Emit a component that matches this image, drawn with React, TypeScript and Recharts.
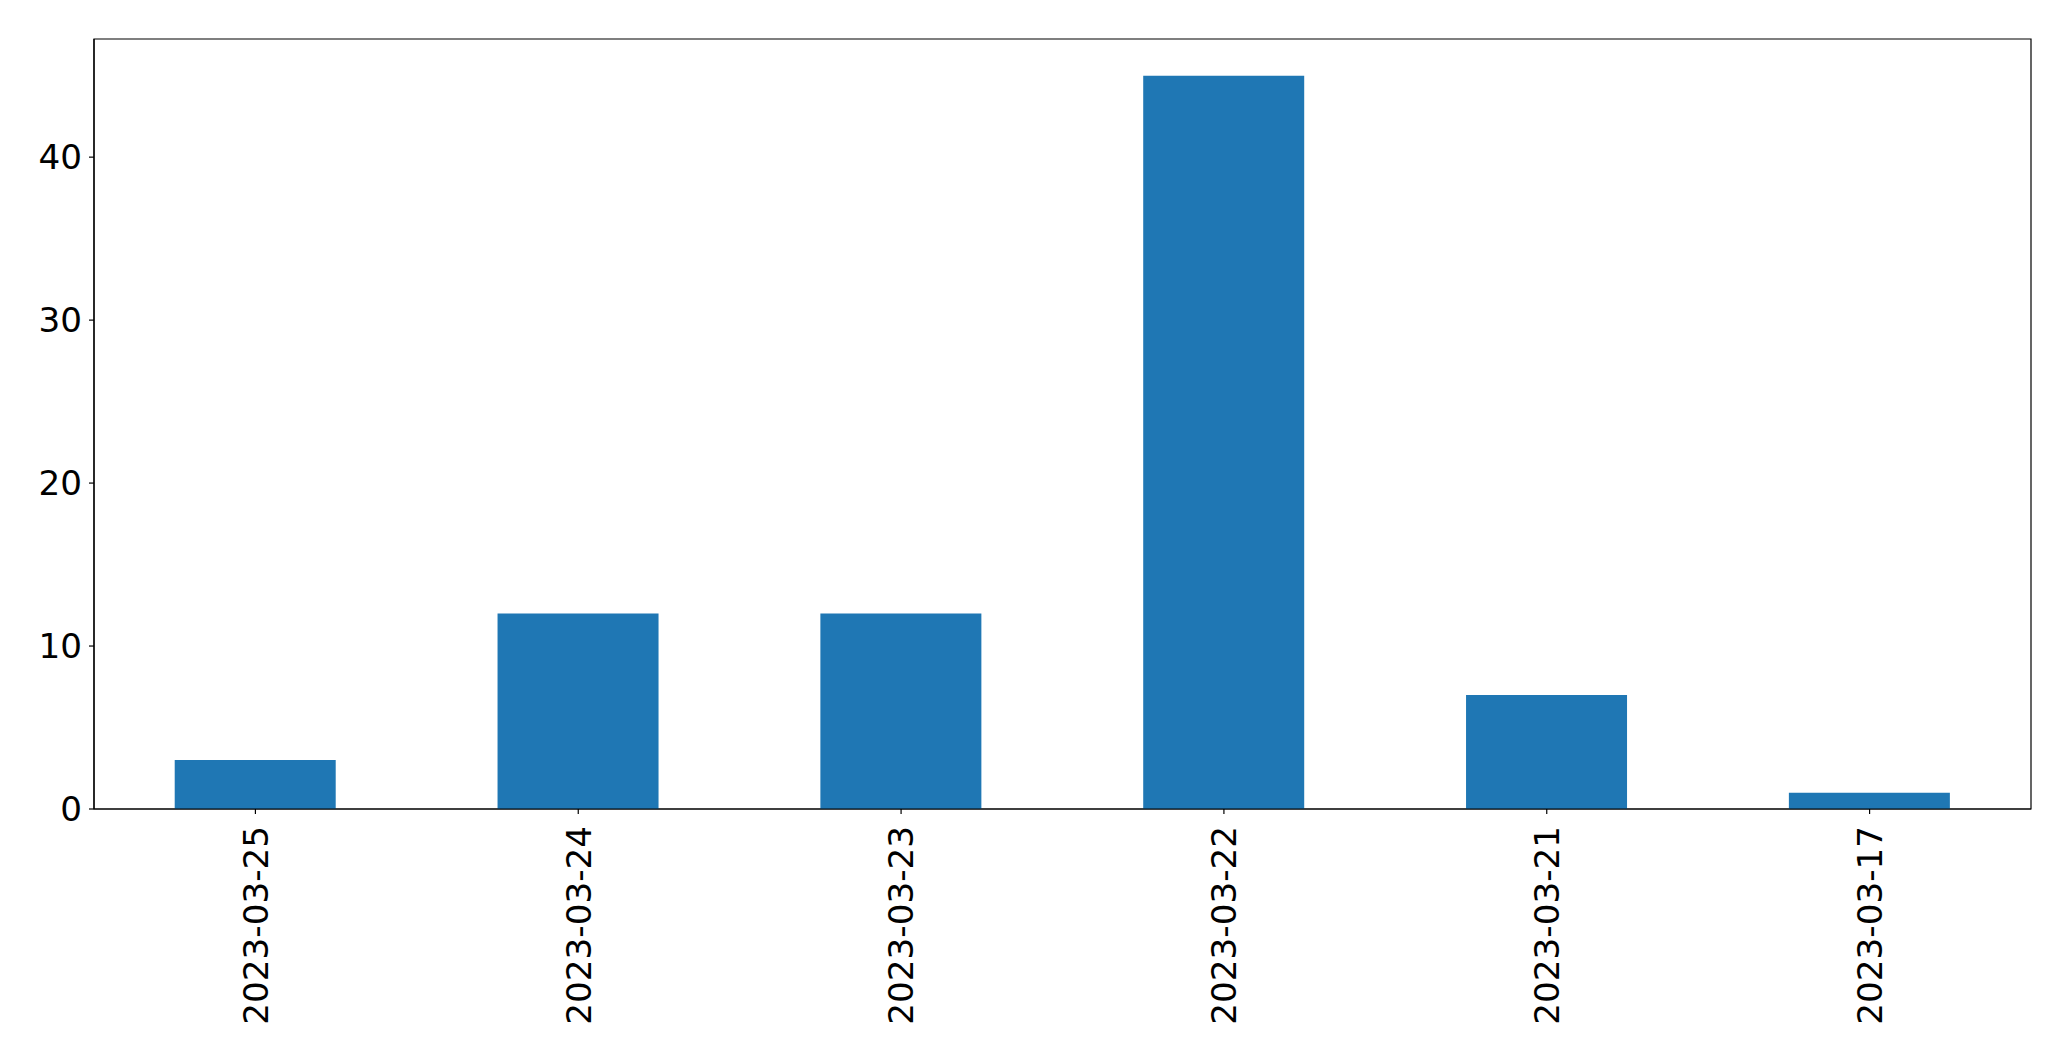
import { BarChart, Bar, XAxis, YAxis, ReferenceArea } from 'recharts'

const dates = ['2023-03-25', '2023-03-24', '2023-03-23', '2023-03-22', '2023-03-21', '2023-03-17']
const counts = [3, 12, 12, 45, 7, 1]
const yTicks = [0, 10, 20, 30, 40]
const yMax = 47.25

const data = dates.map((d, i) => ({ date: d, count: counts[i] }))

const font = 'DejaVu Sans'

function DateTick({ x, y, payload }: any) {
  return (
    <g transform={`translate(${x},${y})`}>
      <text
        transform="rotate(-90)"
        textAnchor="end"
        dy="0.36em"
        fontSize={34.2}
        fontFamily={font}
        fill="#000"
      >
        {payload.value}
      </text>
    </g>
  )
}

export default function App() {
  return (
    <div style={{ position: 'absolute', left: 0, top: 0, background: '#fff' }}>
      <BarChart
        width={2071}
        height={1061}
        data={data}
        margin={{ top: 39, right: 40, left: 0, bottom: 0 }}
        barCategoryGap="25%"
      >
        <XAxis
          dataKey="date"
          height={252}
          interval={0}
          tickSize={5}
          tickMargin={12}
          axisLine={{ stroke: '#000', strokeWidth: 1.2 }}
          tickLine={{ stroke: '#000', strokeWidth: 1.2 }}
          tick={<DateTick />}
        />
        <YAxis
          domain={[0, yMax]}
          ticks={yTicks}
          width={94}
          tickSize={5}
          tickMargin={7}
          axisLine={{ stroke: '#000', strokeWidth: 1.2 }}
          tickLine={{ stroke: '#000', strokeWidth: 1.2 }}
          tick={{ fontSize: 34.2, fontFamily: font, fill: '#000' }}
        />
        <Bar dataKey="count" fill="#1f77b4" isAnimationActive={false} />
        <ReferenceArea y1={0} y2={yMax} fill="none" stroke="#000" strokeWidth={1.2} fillOpacity={0} />
      </BarChart>
    </div>
  )
}
